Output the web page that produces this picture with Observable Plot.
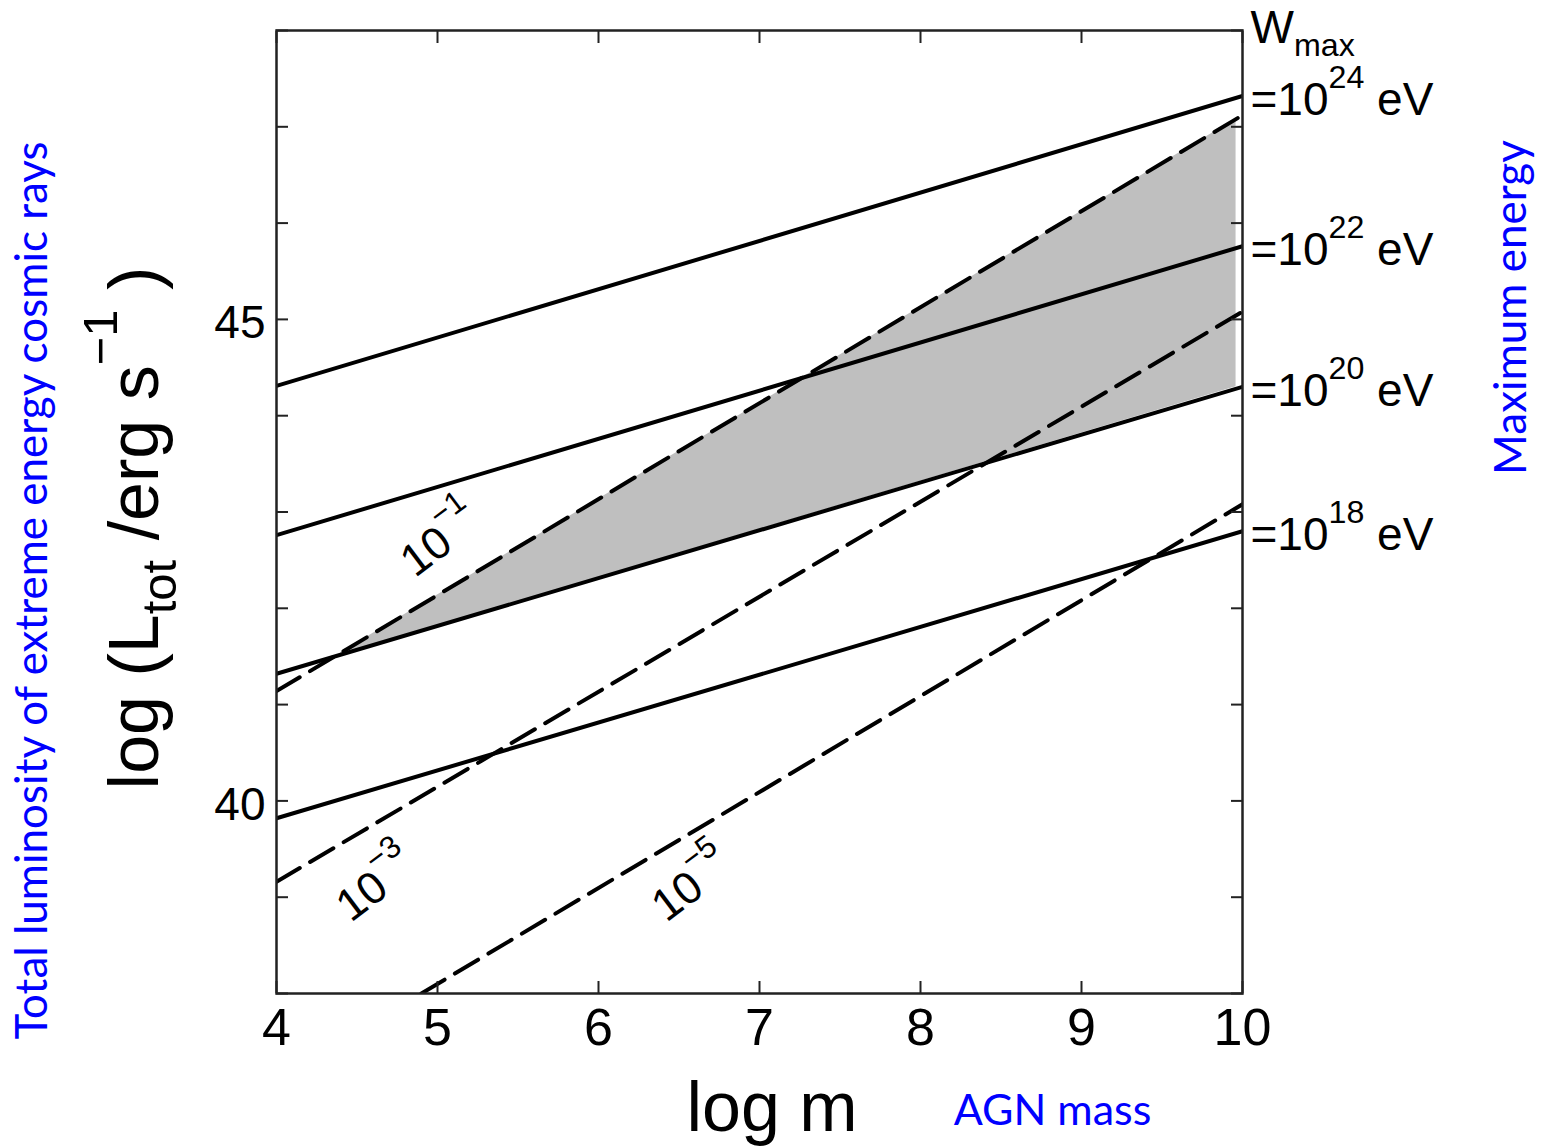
<!DOCTYPE html>
<html>
<head>
<meta charset="utf-8">
<script src="https://cdn.jsdelivr.net/npm/d3@7"></script>
<script src="https://cdn.jsdelivr.net/npm/@observablehq/plot@0.6"></script>
<style>
  body { margin: 0; background: #fff; }
  svg text { white-space: pre; }
</style>
</head>
<body>
<div id="chart"></div>
<script>
// ---- axes ----
const massDomain = [4, 10];
const lumDomain = [38, 48];
const xTickValues = [4, 5, 6, 7, 8, 9, 10];
const yTickValues = [38, 39, 40, 41, 42, 43, 44, 45, 46, 47, 48];
const yLabelValues = [40, 45];

// ---- solid lines: maximum energy W_max ----
const energyLabels = ["=10^{24} eV", "=10^{22} eV", "=10^{20} eV", "=10^{18} eV"];
const energyMassStart = [4, 4, 4, 4];
const energyMassEnd = [10, 10, 10, 10];
const energyLumStart = [44.31, 42.76, 41.32, 39.82];
const energyLumEnd = [47.32, 45.76, 44.30, 42.80];

// ---- dashed lines ----
const dashLabels = ["10^{−1}", "10^{−3}", "10^{−5}"];
const dashMassStart = [4, 4, 4.9];
const dashLumStart = [41.14, 39.16, 38.0];
const dashMassEnd = [10, 10, 10];
const dashLumEnd = [47.12, 45.08, 43.08];
const dashLabelMass = [5.02, 4.62, 6.58];
const dashLabelLum = [42.70, 39.12, 39.12];

// ---- shaded region ----
const shadeMass = [4.4, 9.96];
const shadeLow = [41.52, 44.30];
const shadeHigh = [41.54, 47.08];

// ---- texts ----
const xTitle = "log m";
const yTitle = "log (L_{tot} /erg s^{−1} )";
const wTitle = "W_{max}";
const blueLeft = "Total luminosity of extreme energy cosmic rays";
const blueBottom = "AGN mass";
const blueRight = "Maximum energy";

// build tables
const energyRows = energyLabels.flatMap((s, i) => [
  {series: s, m: energyMassStart[i], L: energyLumStart[i]},
  {series: s, m: energyMassEnd[i], L: energyLumEnd[i]}
]);
const energyEnds = energyLabels.map((s, i) => ({label: s, m: energyMassEnd[i], L: energyLumEnd[i]}));
const dashRows = dashLabels.flatMap((s, i) => [
  {series: s, m: dashMassStart[i], L: dashLumStart[i]},
  {series: s, m: dashMassEnd[i], L: dashLumEnd[i]}
]);
const dashLabelRows = dashLabels.map((s, i) => ({label: s, m: dashLabelMass[i], L: dashLabelLum[i]}));
const shadeRows = shadeMass.map((m, i) => ({m, lo: shadeLow[i], hi: shadeHigh[i]}));

const blueFont = "Lato, 'Open Sans', sans-serif";
const ink = "#222";
const fmt = d => String(d);

const plot = Plot.plot({
  width: 1542,
  height: 1147,
  marginLeft: 276,
  marginRight: 300,
  marginTop: 30,
  marginBottom: 154,
  style: {fontFamily: "'Liberation Sans', Arial, Helvetica, sans-serif", background: "#fff", color: "#000", overflow: "visible"},
  x: {domain: massDomain},
  y: {domain: lumDomain},
  marks: [
    Plot.areaY(shadeRows, {x: "m", y1: "lo", y2: "hi", fill: "#bfbfbf"}),
    Plot.line(energyRows, {x: "m", y: "L", z: "series", stroke: "#000", strokeWidth: 4, clip: true}),
    Plot.line(dashRows, {x: "m", y: "L", z: "series", stroke: "#000", strokeWidth: 4, strokeDasharray: "27,12", clip: true}),
    Plot.frame({stroke: ink, strokeWidth: 2.5}),
    // inward ticks
    Plot.axisY(yTickValues, {anchor: "left", tickSize: -12, tickFormat: () => "", label: null, stroke: ink, strokeWidth: 2}),
    Plot.axisY(yTickValues, {anchor: "right", tickSize: -12, tickFormat: () => "", label: null, stroke: ink, strokeWidth: 2}),
    Plot.axisX(xTickValues, {anchor: "top", tickSize: -12, tickFormat: () => "", label: null, stroke: ink, strokeWidth: 2}),
    Plot.axisX(xTickValues, {anchor: "bottom", tickSize: -12, tickPadding: 27, fontSize: 52, tickFormat: fmt, label: null, stroke: ink, strokeWidth: 2, fill: "#000"}),
    Plot.axisY(yLabelValues, {anchor: "left", tickSize: 0, tickPadding: 11, fontSize: 46, dy: 4, tickFormat: fmt, label: null, fill: "#000"}),
    // dashed-line labels
    Plot.text(dashLabelRows, {x: "m", y: "L", text: "label", rotate: -37, fontSize: 45, fill: "#000", textAnchor: "middle", lineAnchor: "middle"}),
    // energy labels at right end of each solid line
    Plot.text(energyEnds, {x: "m", y: "L", text: "label", fontSize: 46, fill: "#000", textAnchor: "start", lineAnchor: "middle", dx: 8, dy: 4}),
    Plot.text([wTitle], {frameAnchor: "top-right", textAnchor: "start", lineAnchor: "middle", fontSize: 46, fill: "#000", dx: 8, dy: -2}),
    // axis titles
    Plot.text([xTitle], {frameAnchor: "bottom", textAnchor: "middle", lineAnchor: "middle", fontSize: 70, fill: "#000", dx: 12.5, dy: 115}),
    Plot.text([yTitle], {frameAnchor: "left", textAnchor: "middle", lineAnchor: "middle", rotate: -90, fontSize: 70, fill: "#000", dx: -141.4, dy: 16}),
    // blue annotations
    Plot.text([blueLeft], {frameAnchor: "left", textAnchor: "middle", lineAnchor: "middle", rotate: -90, fontSize: 44, fontFamily: blueFont, fill: "#0000ff", dx: -243.4, dy: 78.5}),
    Plot.text([blueBottom], {frameAnchor: "bottom", textAnchor: "middle", lineAnchor: "middle", fontSize: 43, fontFamily: blueFont, fill: "#0000ff", dx: 293, dy: 118}),
    Plot.text([blueRight], {frameAnchor: "right", textAnchor: "middle", lineAnchor: "middle", rotate: -90, fontSize: 44, fontFamily: blueFont, fill: "#0000ff", dx: 269, dy: -204.5})
  ]
});

document.getElementById("chart").appendChild(plot);

// turn ^{...} / _{...} markers into real super/subscript tspans
function richText(svg) {
  const NS = "http://www.w3.org/2000/svg";
  svg.querySelectorAll("text").forEach(el => {
    const s = el.textContent;
    if (!/[\^_]\{/.test(s)) return;
    const fs = parseFloat(getComputedStyle(el).fontSize);
    const parts = [];
    const re = /([\^_])\{([^}]*)\}/g;
    let last = 0, m;
    while ((m = re.exec(s))) {
      if (m.index > last) parts.push({t: s.slice(last, m.index), k: "n"});
      parts.push({t: m[2], k: m[1] === "^" ? "sup" : "sub"});
      last = re.lastIndex;
    }
    if (last < s.length) parts.push({t: s.slice(last), k: "n"});
    while (el.firstChild) el.removeChild(el.firstChild);
    let shift = 0;
    for (const p of parts) {
      const ts = document.createElementNS(NS, "tspan");
      const target = p.k === "sup" ? -0.58 * fs : p.k === "sub" ? 0.27 * fs : 0;
      ts.setAttribute("dy", (target - shift).toFixed(2));
      shift = target;
      if (p.k !== "n") ts.setAttribute("font-size", (0.7 * fs).toFixed(2));
      ts.textContent = p.t;
      el.appendChild(ts);
    }
  });
}
richText(plot);
</script>
</body>
</html>
